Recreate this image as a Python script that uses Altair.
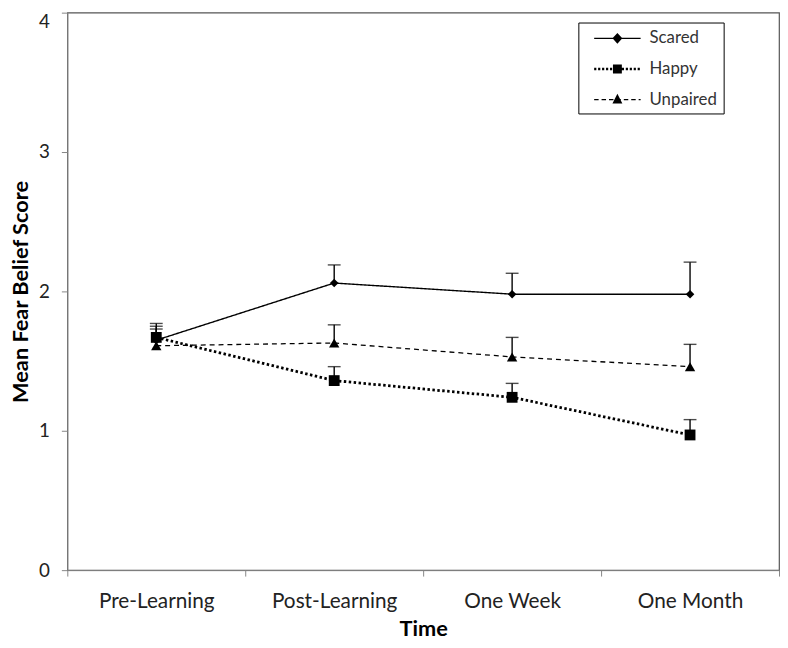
import altair as alt
import pandas as pd

times = ["Pre-Learning", "Post-Learning", "One Week", "One Month"]
groups = ["Scared", "Happy", "Unpaired"]

scared_mean = [1.65, 2.06, 1.98, 1.98]
scared_upper = [1.77, 2.19, 2.13, 2.21]
happy_mean = [1.67, 1.36, 1.24, 0.97]
happy_upper = [1.75, 1.46, 1.34, 1.08]
unpaired_mean = [1.61, 1.63, 1.53, 1.46]
unpaired_upper = [1.73, 1.76, 1.67, 1.62]

rows = []
for g, m, u in [("Scared", scared_mean, scared_upper),
                ("Happy", happy_mean, happy_upper),
                ("Unpaired", unpaired_mean, unpaired_upper)]:
    for t, mv, uv in zip(times, m, u):
        rows.append({"Time": t, "Group": g, "Legend": g, "Mean": mv, "Upper": uv})
df = pd.DataFrame(rows)

FONT = "Lato"
AX = "#868686"

x = alt.X("Time:N", sort=times, title="Time",
          scale=alt.Scale(paddingInner=0, paddingOuter=0),
          axis=alt.Axis(labelAngle=0, tickBand="extent", domainColor=AX, tickColor=AX,
                        tickSize=6, labelPadding=15, labelFontSize=21, labelColor="#222222",
                        labelFont=FONT, titleFont=FONT, titleFontSize=22, titleFontWeight="bold",
                        titleColor="black", titlePadding=7, grid=False))
y = alt.Y("Mean:Q", title="Mean Fear Belief Score",
          scale=alt.Scale(domain=[0, 4]),
          axis=alt.Axis(values=[0, 1, 2, 3, 4], format="d", domainColor=AX, tickColor=AX,
                        tickSize=6, labelPadding=12, labelFontSize=19, labelColor="#222222",
                        labelBaseline={"condition": {"test": "datum.value == 4", "value": "top"}, "value": "middle"},
                        labelFont=FONT, titleFont=FONT, titleFontSize=22, titleFontWeight="bold",
                        titleColor="black", titlePadding=5, minExtent=30, maxExtent=30, grid=False))

base = alt.Chart(df)
xs = alt.X("Time:N", sort=times)

styles = {
    "Scared": dict(dash=[1, 0], width=1.4, shape="diamond", size=75),
    "Happy": dict(dash=[2.5, 2.5], width=2.8, shape="square", size=120),
    "Unpaired": dict(dash=[5, 4], width=1.3, shape="triangle-up", size=110),
}

layers = []
for g in groups:
    s = styles[g]
    layers.append(base.transform_filter(alt.datum.Group == g).mark_line(
        color="black", strokeDash=s["dash"], strokeWidth=s["width"]).encode(x=x, y=y))
layers.append(base.mark_rule(color="black", strokeWidth=1.4).encode(x=xs, y="Mean:Q", y2="Upper:Q"))
layers.append(base.mark_tick(color="black", size=13, thickness=1.4, orient="horizontal").encode(
    x=xs, y=alt.Y("Upper:Q")))
for g in groups:
    s = styles[g]
    layers.append(base.transform_filter(alt.datum.Group == g).mark_point(
        filled=True, color="black", opacity=1, shape=s["shape"], size=s["size"]).encode(x=xs, y="Mean:Q"))


# legend glyphs: a line sample (drawn as filled segments) with the marker in the middle
def segs(dash, gap, half):
    parts, x0 = [], 0.0
    while x0 < 4.7:
        x1 = min(x0 + dash, 4.7)
        parts.append(f"M{x0:.2f},{-half} L{x1:.2f},{-half} L{x1:.2f},{half} L{x0:.2f},{half} Z")
        x0 = x1 + gap
    return " ".join(parts)


legend_paths = [
    segs(4.7, 0, 0.07) + " M2.35,-0.55 L2.85,0 L2.35,0.55 L1.85,0 Z",
    segs(0.22, 0.18, 0.12) + " M1.9,-0.45 L2.8,-0.45 L2.8,0.45 L1.9,0.45 Z",
    segs(0.45, 0.3, 0.07) + " M2.35,-0.6 L2.85,0.4 L1.85,0.4 Z",
]
leg = base.mark_point(filled=True, color="black", opacity=0).encode(
    x=xs, y="Mean:Q",
    shape=alt.Shape("Legend:N", scale=alt.Scale(domain=groups, range=legend_paths),
                    legend=alt.Legend(title=None, orient="none", legendX=517, legendY=10,
                                      strokeColor="black", padding=6, fillColor="white",
                                      symbolSize=400, symbolFillColor="black",
                                      symbolStrokeWidth=0, symbolOpacity=1, labelOffset=46,
                                      rowPadding=13, labelFont=FONT, labelFontSize=17,
                                      labelColor="#333333")),
)
layers.append(leg)

chart = alt.layer(*layers).properties(
    width=720, height=564, padding={"left": 2, "top": 0, "right": 0, "bottom": 0}
).configure_view(stroke="#555555", strokeWidth=1.2)

chart.save("out.html", embed_options={"renderer": "svg", "actions": False})
